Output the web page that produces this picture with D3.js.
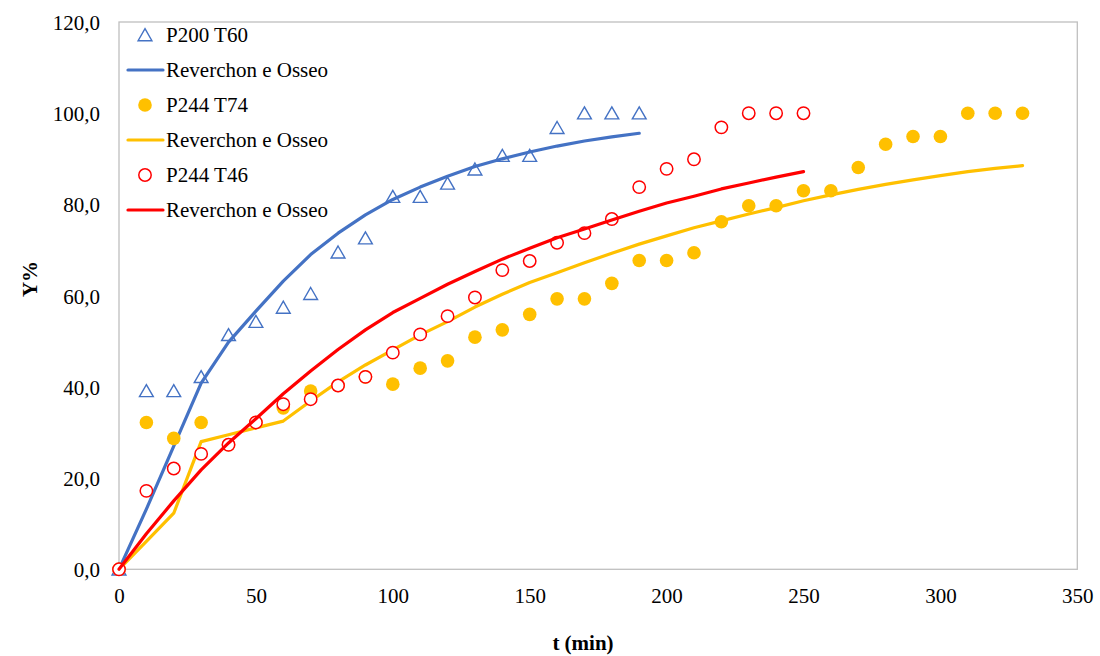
<!DOCTYPE html>
<html>
<head>
<meta charset="utf-8">
<script src="https://cdn.jsdelivr.net/npm/d3@7"></script>
<style>
  body { margin: 0; background: #fff; }
  text { font-family: "Liberation Serif", "Times New Roman", serif; fill: #000; }
</style>
</head>
<body>
<svg id="chart" width="1100" height="656"></svg>
<script>
// Extraction yield Y% against time t (min): measured points and Reverchon e Osseo model curves
const tP200T60 = [0, 10, 20, 30, 40, 50, 60, 70, 80, 90, 100, 110, 120, 130, 140, 150, 160, 170, 180, 190];
const yP200T60 = [0, 39.1, 39.1, 42.2, 51.4, 54.3, 57.4, 60.4, 69.5, 72.6, 81.7, 81.7, 84.6, 87.7, 90.7, 90.7, 96.8, 100, 100, 100];
const modelP200T60 = [0, 13.2, 27.0, 40.8, 49.8, 56.6, 63.2, 69.0, 73.7, 77.7, 81.1, 83.8, 86.2, 88.3, 90.0, 91.5, 92.8, 93.9, 94.8, 95.6];

const tP244T74 = [0, 10, 20, 30, 40, 50, 60, 70, 80, 90, 100, 110, 120, 130, 140, 150, 160, 170, 180, 190, 200, 210, 220, 230, 240, 250, 260, 270, 280, 290, 300, 310, 320, 330];
const yP244T74 = [0, 32.2, 28.7, 32.2, 27.3, 32.2, 35.4, 39.1, 40.3, 42.2, 40.6, 44.1, 45.7, 50.9, 52.5, 55.9, 59.3, 59.3, 62.7, 67.7, 67.7, 69.4, 76.2, 79.7, 79.7, 83.0, 83.0, 88.1, 93.2, 94.9, 94.9, 100, 100, 100];
const modelP244T74 = [0, 6.1, 12.3, 28.0, 29.5, 31.0, 32.5, 36.9, 41.1, 44.8, 48.1, 51.4, 54.3, 57.5, 60.3, 62.9, 65.0, 67.2, 69.3, 71.3, 73.1, 74.9, 76.4, 77.9, 79.3, 80.8, 82.1, 83.3, 84.4, 85.4, 86.3, 87.2, 87.9, 88.5];

const tP244T46 = [0, 10, 20, 30, 40, 50, 60, 70, 80, 90, 100, 110, 120, 130, 140, 150, 160, 170, 180, 190, 200, 210, 220, 230, 240, 250];
const yP244T46 = [0, 17.2, 22.1, 25.3, 27.3, 32.2, 36.2, 37.3, 40.3, 42.2, 47.5, 51.5, 55.5, 59.6, 65.6, 67.6, 71.6, 73.7, 76.8, 83.8, 87.8, 89.9, 96.9, 100, 100, 100];
const modelP244T46 = [0, 7.8, 15.0, 21.8, 27.7, 33.0, 38.5, 43.5, 48.2, 52.5, 56.3, 59.4, 62.5, 65.3, 68.0, 70.4, 72.7, 74.6, 76.6, 78.5, 80.3, 81.8, 83.4, 84.7, 86.0, 87.2];

const xTicks = [0, 50, 100, 150, 200, 250, 300, 350];
const yTicks = [0, 20, 40, 60, 80, 100, 120];
const legendLabels = ["P200 T60", "Reverchon e Osseo", "P244 T74", "Reverchon e Osseo", "P244 T46", "Reverchon e Osseo"];

const BLUE = "#4472C4", GOLD = "#FFC000", RED = "#FF0000";

const svg = d3.select("#chart");
const plot = { left: 119, right: 1077.3, top: 22, bottom: 569.3 };

const x = d3.scaleLinear().domain([0, 350]).range([plot.left, plot.right]);
const y = d3.scaleLinear().domain([0, 120]).range([plot.bottom, plot.top]);

const commaFmt = d3.formatLocale({ decimal: ",", thousands: ".", grouping: [3], currency: ["", ""] }).format(".1f");

// plot frame
svg.append("rect")
  .attr("x", plot.left).attr("y", plot.top)
  .attr("width", plot.right - plot.left).attr("height", plot.bottom - plot.top)
  .attr("fill", "none").attr("stroke", "#BFBFBF").attr("stroke-width", 1.3);

// axes
const xAxis = svg.append("g")
  .attr("transform", `translate(0,${plot.bottom})`)
  .call(d3.axisBottom(x).tickValues(xTicks).tickSize(0).tickPadding(19).tickFormat(d3.format("d")));
const yAxis = svg.append("g")
  .attr("transform", `translate(${plot.left},0)`)
  .call(d3.axisLeft(y).tickValues(yTicks).tickSize(0).tickPadding(19).tickFormat(commaFmt));
[xAxis, yAxis].forEach(g => {
  g.select(".domain").remove();
  g.selectAll("text").attr("font-family", "Liberation Serif, Times New Roman, serif").attr("font-size", 21).attr("fill", "#000");
});
yAxis.selectAll("text").attr("dy", "0.35em");

// axis titles
svg.append("text")
  .attr("x", 583).attr("y", 650)
  .attr("text-anchor", "middle")
  .attr("font-size", 21).attr("font-weight", "bold")
  .text("t (min)");
svg.append("text")
  .attr("transform", "translate(37,279) rotate(-90)")
  .attr("text-anchor", "middle")
  .attr("font-size", 21).attr("font-weight", "bold")
  .text("Y%");

const line = d3.line().x(d => x(d[0])).y(d => y(d[1]));
const zip = (a, b) => a.map((v, i) => [v, b[i]]);

const triPath = "M0,-6.3L6.9,5.7L-6.9,5.7Z";

function drawTriangles(g, data) {
  g.selectAll("path.tri").data(data).join("path")
    .attr("class", "tri")
    .attr("transform", d => `translate(${x(d[0])},${y(d[1])})`)
    .attr("d", triPath)
    .attr("fill", "none").attr("stroke", BLUE).attr("stroke-width", 1.4);
}
function drawLine(g, data, color) {
  g.append("path").datum(data)
    .attr("d", line)
    .attr("fill", "none").attr("stroke", color).attr("stroke-width", 3.2)
    .attr("stroke-linecap", "round").attr("stroke-linejoin", "round");
}

const series = svg.append("g");
// series 1: P200 T60 points + model
drawTriangles(series.append("g"), zip(tP200T60, yP200T60));
drawLine(series.append("g"), zip(tP200T60, modelP200T60), BLUE);
// series 2: P244 T74 points + model
series.append("g").selectAll("circle").data(zip(tP244T74, yP244T74)).join("circle")
  .attr("cx", d => x(d[0])).attr("cy", d => y(d[1])).attr("r", 6.8)
  .attr("fill", GOLD);
drawLine(series.append("g"), zip(tP244T74, modelP244T74), GOLD);
// series 3: P244 T46 points + model
series.append("g").selectAll("circle").data(zip(tP244T46, yP244T46)).join("circle")
  .attr("cx", d => x(d[0])).attr("cy", d => y(d[1])).attr("r", 6.2)
  .attr("fill", "#fff").attr("stroke", RED).attr("stroke-width", 1.5);
drawLine(series.append("g"), zip(tP244T46, modelP244T46), RED);

// legend
const legend = svg.append("g");
const legendKinds = ["tri", "line", "dot", "line", "ring", "line"];
const legendColors = [BLUE, BLUE, GOLD, GOLD, RED, RED];
legendLabels.forEach((label, i) => {
  const cy = 35 + i * 35;
  const kind = legendKinds[i];
  if (kind === "tri") {
    legend.append("path").attr("transform", `translate(145,${cy})`).attr("d", triPath)
      .attr("fill", "none").attr("stroke", legendColors[i]).attr("stroke-width", 1.4);
  } else if (kind === "dot") {
    legend.append("circle").attr("cx", 145).attr("cy", cy).attr("r", 6.8).attr("fill", legendColors[i]);
  } else if (kind === "ring") {
    legend.append("circle").attr("cx", 145).attr("cy", cy).attr("r", 6.2)
      .attr("fill", "#fff").attr("stroke", legendColors[i]).attr("stroke-width", 1.5);
  } else {
    legend.append("line").attr("x1", 128).attr("x2", 163).attr("y1", cy).attr("y2", cy)
      .attr("stroke", legendColors[i]).attr("stroke-width", 3.2).attr("stroke-linecap", "round");
  }
  legend.append("text").attr("x", 166).attr("y", cy).attr("dy", "0.35em")
    .attr("font-size", 21).text(label);
});
</script>
</body>
</html>
